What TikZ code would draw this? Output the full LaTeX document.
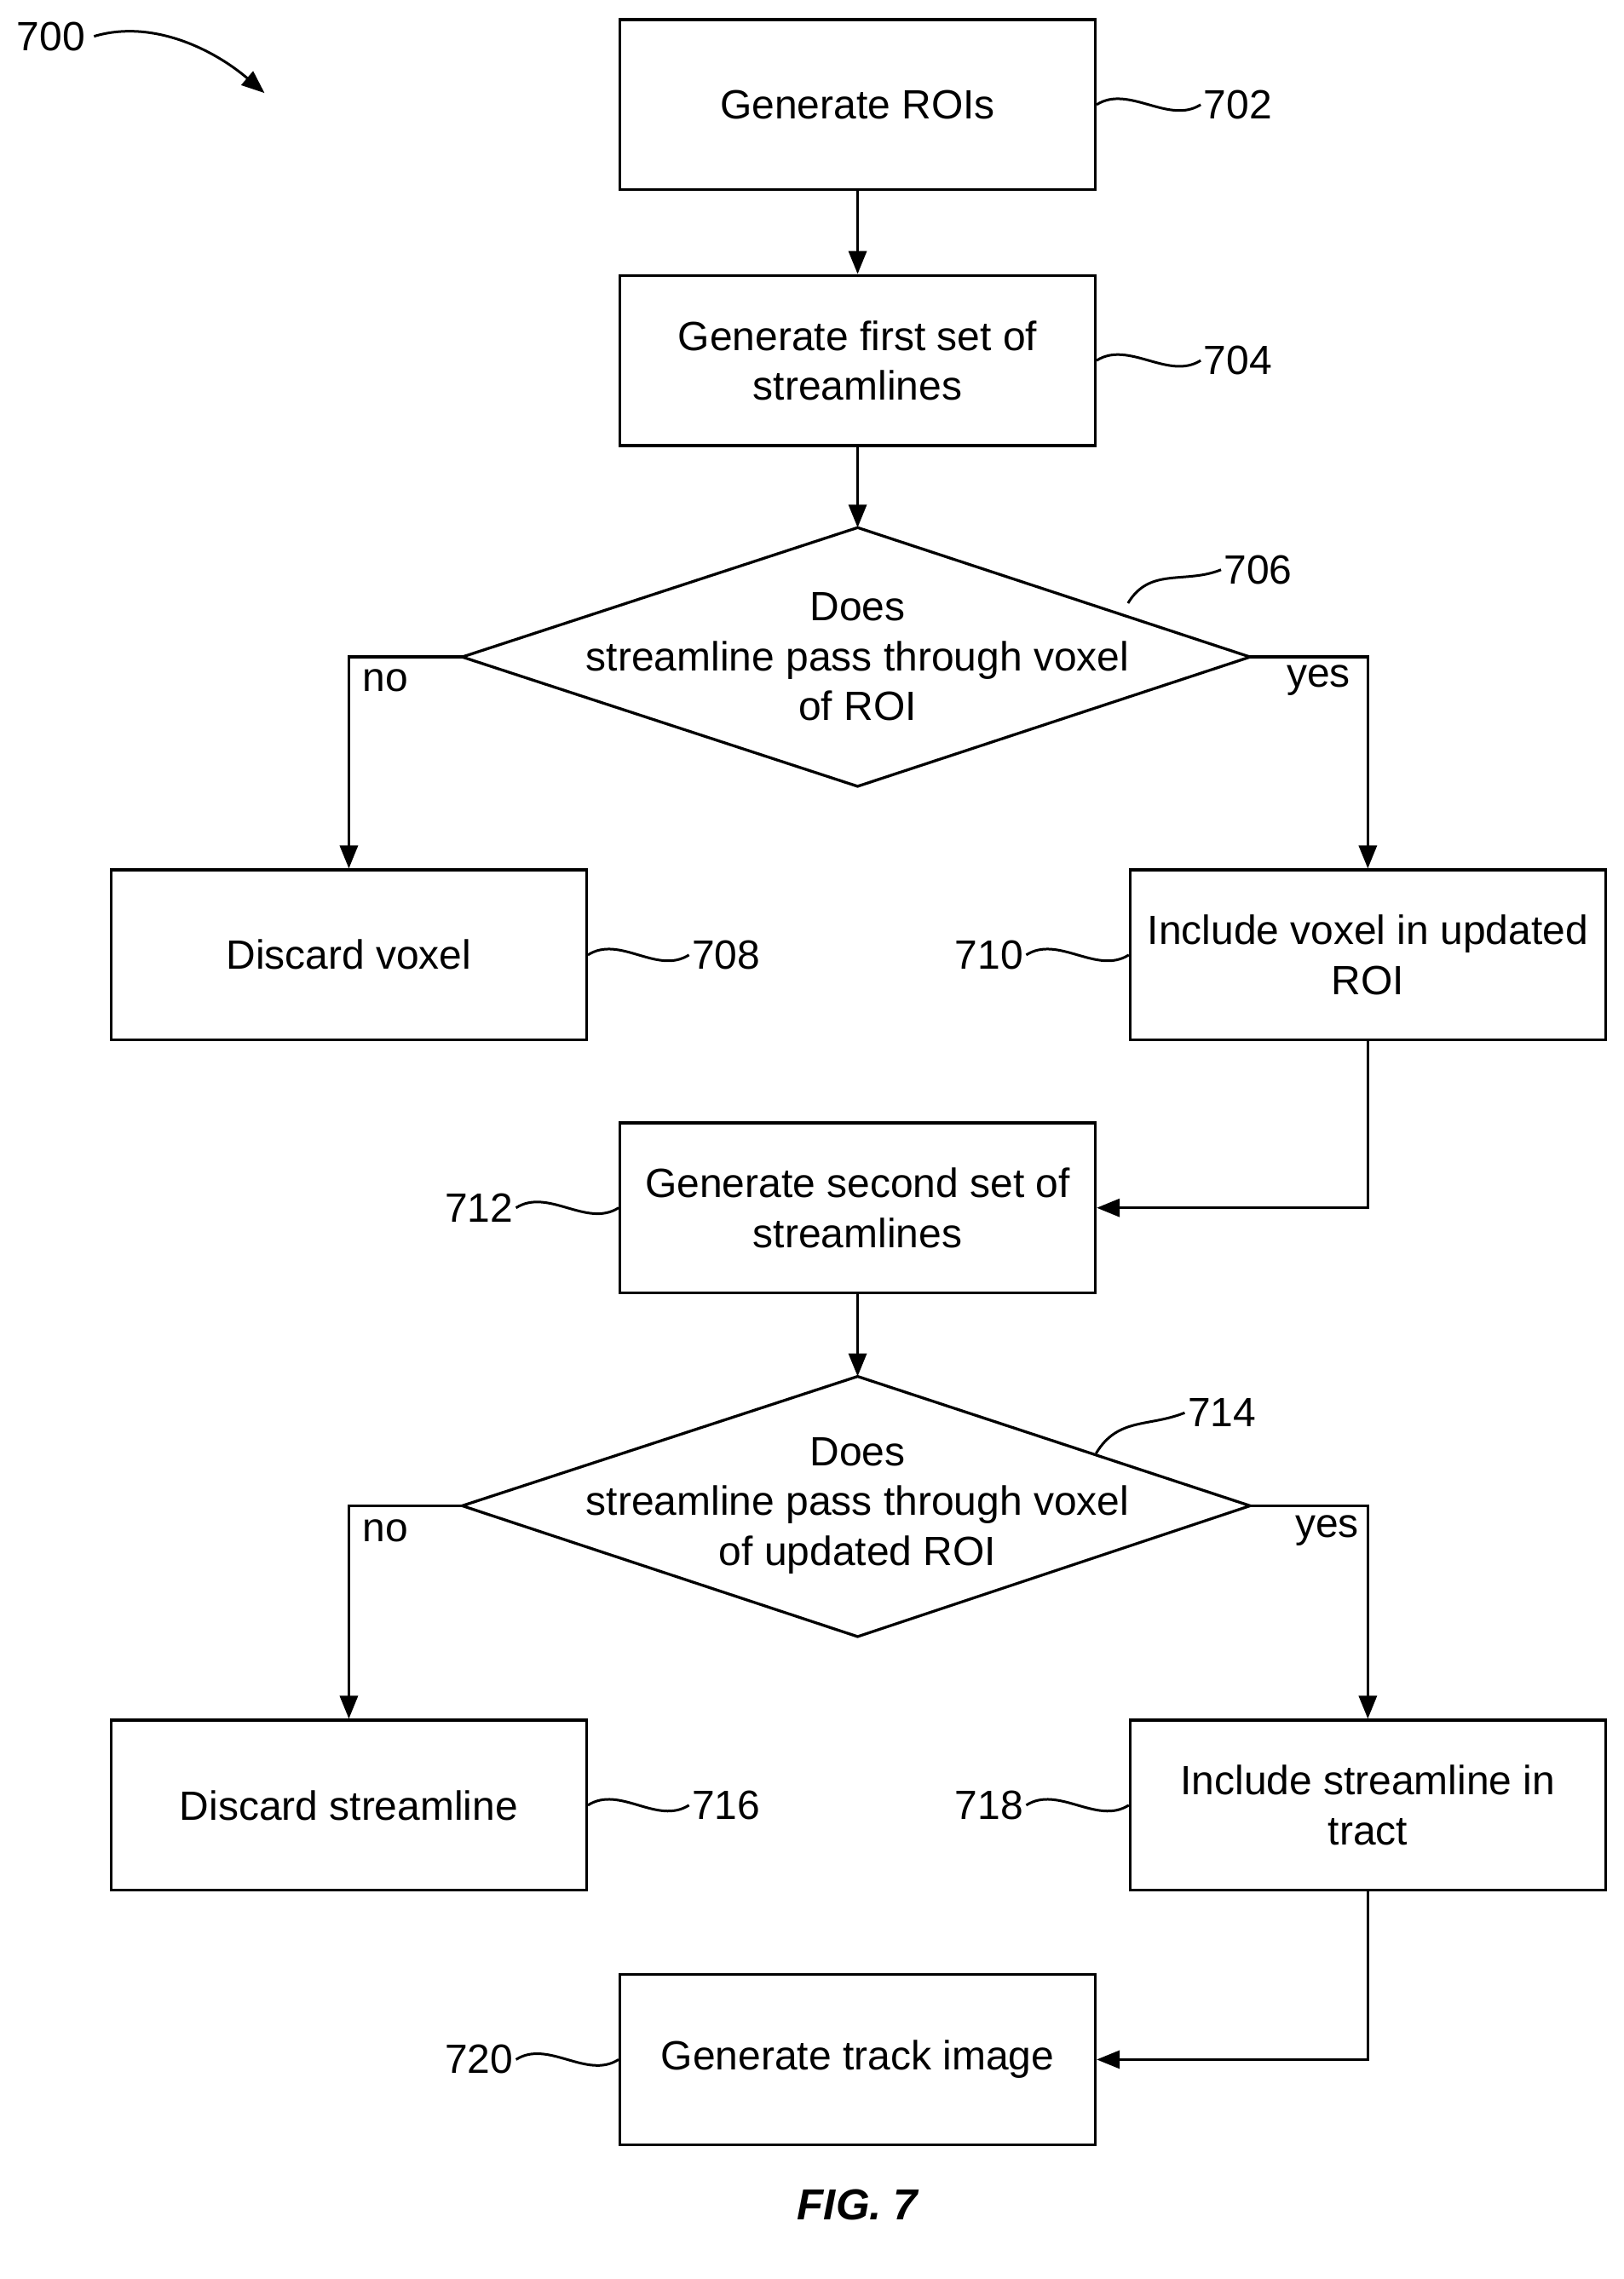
\documentclass[tikz,border=0pt]{standalone}
\usepackage{fontspec}
\setmainfont{Liberation Sans}
\usetikzlibrary{arrows.meta,positioning,calc}

\tikzset{
  stage/.style={draw, line width=1.1pt, minimum width=6.54cm, minimum height=2.34cm, align=center, inner sep=2pt},
  flow/.style={line width=1.1pt, -{Triangle[length=9pt,width=7pt]}},
  tag/.style={inner sep=1pt},
  wave/.style={line width=1pt}
}
\newcommand{\wavy}[2]{\draw[wave] (#1) .. controls +(22,-14) and +(-22,14) .. (#2);}

\begin{document}
\begin{tikzpicture}[x=0.02cm, y=-0.02cm, font=\fontsize{16}{19.5}\selectfont]
  \useasboundingbox (0,0) rectangle (1117,1568);

  % boxes
  \node[stage] (roi) at (590,72) {Generate ROIs};
  \node[stage] (first) at (590,248) {Generate first set of\\streamlines};
  \node[stage] (discv) at (240,657) {Discard voxel};
  \node[stage] (incv) at (941,657) {Include voxel in updated\\ROI};
  \node[stage] (second) at (590,831) {Generate second set of\\streamlines};
  \node[stage] (discs) at (240,1242) {Discard streamline};
  \node[stage] (incs) at (941,1242) {Include streamline in\\tract};
  \node[stage] (track) at (590,1417) {Generate track image};

  % decisions
  \node[align=center] (ask1) at (590,452) {Does\\streamline pass through voxel\\of ROI};
  \coordinate (ask1n) at (590,363); \coordinate (ask1e) at (860,452);
  \coordinate (ask1s) at (590,541); \coordinate (ask1w) at (318,452);
  \draw[line width=1.1pt] (ask1w) -- (ask1n) -- (ask1e) -- (ask1s) -- cycle;

  \node[align=center] (ask2) at (590,1036) {Does\\streamline pass through voxel\\of updated ROI};
  \coordinate (ask2n) at (590,947); \coordinate (ask2e) at (860,1036);
  \coordinate (ask2s) at (590,1126); \coordinate (ask2w) at (318,1036);
  \draw[line width=1.1pt] (ask2w) -- (ask2n) -- (ask2e) -- (ask2s) -- cycle;

  % connectors
  \draw[flow] (roi) -- (first);
  \draw[flow] (first) -- (ask1n);
  \draw[flow] (ask1w) -| (discv);
  \draw[flow] (ask1e) -| (incv);
  \draw[flow] (incv.south) |- (second.east);
  \draw[flow] (second) -- (ask2n);
  \draw[flow] (ask2w) -| (discs);
  \draw[flow] (ask2e) -| (incs);
  \draw[flow] (incs.south) |- (track.east);

  \node (no1) at (265,468) {no};
  \node (yes1) at (907,468) {yes};
  \node (no2) at (265,1053) {no};
  \node (yes2) at (913,1053) {yes};

  % reference numerals
  \node[tag, anchor=west] (n702) at (826,72) {702};
  \node[tag, anchor=west] (n704) at (826,248) {704};
  \node[tag, anchor=west] (n706) at (840,392) {706};
  \node[tag, anchor=west] (n708) at (474,657) {708};
  \node[tag, anchor=east] (n710) at (706,657) {710};
  \node[tag, anchor=east] (n712) at (355,831) {712};
  \node[tag, anchor=west] (n714) at (815,972) {714};
  \node[tag, anchor=west] (n716) at (474,1242) {716};
  \node[tag, anchor=east] (n718) at (706,1242) {718};
  \node[tag, anchor=east] (n720) at (355,1417) {720};
  \coordinate (w706) at (776,415);
  \coordinate (w714) at (754,1000);

  \wavy{roi.east}{n702.west}
  \wavy{first.east}{n704.west}
  \draw[wave] (w706) .. controls +(15,-25) and +(-25,10) .. (n706.west);
  \wavy{discv.east}{n708.west}
  \wavy{n710.east}{incv.west}
  \wavy{n712.east}{second.west}
  \draw[wave] (w714) .. controls +(15,-25) and +(-25,10) .. (n714.west);
  \wavy{discs.east}{n716.west}
  \wavy{n718.east}{incs.west}
  \wavy{n720.east}{track.west}

  \node (fig) at (35,25) {700};
  \coordinate (figtip) at (182,64);
  \draw[flow, line width=1pt] (fig.east) .. controls +(40,-12) and +(-35,-30) .. (figtip);

  \node[font=\fontsize{17}{20}\selectfont\bfseries\itshape] (cap) at (590,1517) {FIG. 7};
\end{tikzpicture}
\end{document}
